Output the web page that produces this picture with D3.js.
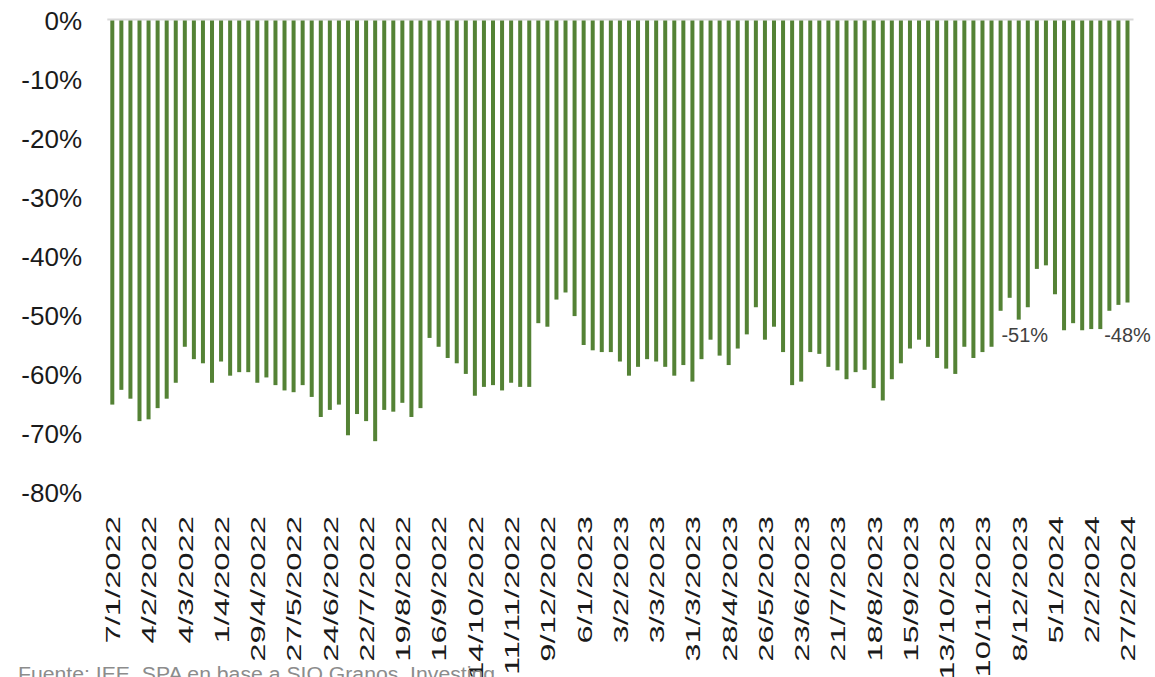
<!DOCTYPE html>
<html>
<head>
<meta charset="utf-8">
<script src="https://cdn.jsdelivr.net/npm/d3@7"></script>
<style>
  body { margin: 0; background: #fff; }
  text { font-family: "Liberation Sans", Arial, sans-serif; }
</style>
</head>
<body>
<script>
// weekly change, % (negative)
const values = [
  -65.1, -62.6, -64.1, -67.9, -67.6, -65.7, -64.1, -61.4, -55.3, -57.4,
  -58.1, -61.4, -57.8, -60.2, -59.6, -59.6, -61.4, -60.5, -61.8, -62.7,
  -63.0, -61.8, -63.8, -67.2, -66.0, -65.1, -70.3, -66.7, -67.9, -71.3,
  -66.0, -66.3, -64.8, -67.2, -65.7, -53.8, -55.3, -57.2, -58.1, -59.9,
  -63.6, -62.1, -61.8, -62.7, -61.4, -62.1, -62.1, -51.3, -51.9, -47.3,
  -46.1, -50.1, -55.0, -55.9, -56.2, -56.2, -57.8, -60.2, -58.7, -57.4,
  -57.8, -58.7, -60.2, -58.4, -61.2, -57.4, -54.1, -56.8, -58.4, -55.6,
  -53.2, -48.6, -54.1, -51.9, -56.2, -61.8, -61.2, -56.2, -56.5, -58.7,
  -59.3, -60.8, -59.6, -59.2, -62.3, -64.4, -60.8, -58.1, -55.6, -54.1,
  -55.3, -57.2, -59.0, -59.9, -55.3, -57.2, -56.2, -55.3, -49.2, -47.0,
  -50.7, -48.6, -42.1, -41.5, -46.4, -52.5, -51.3, -52.5, -52.3, -52.3,
  -49.2, -48.2, -47.8
];

// one label every 4 weeks
const tickLabels = [
  "7/1/2022", "4/2/2022", "4/3/2022", "1/4/2022", "29/4/2022", "27/5/2022",
  "24/6/2022", "22/7/2022", "19/8/2022", "16/9/2022", "14/10/2022",
  "11/11/2022", "9/12/2022", "6/1/2023", "3/2/2023", "3/3/2023", "31/3/2023",
  "28/4/2023", "26/5/2023", "23/6/2023", "21/7/2023", "18/8/2023",
  "15/9/2023", "13/10/2023", "10/11/2023", "8/12/2023", "5/1/2024",
  "2/2/2024", "27/2/2024"
];

const yTicks = [0, -10, -20, -30, -40, -50, -60, -70, -80];

// labelled bars
const callouts = [
  { index: 100, text: "-51%" },
  { index: 112, text: "-48%" }
];

const width = 1155;
const height = 677;
const green = "#548235";

const svg = d3
  .select("body")
  .append("svg")
  .attr("width", width)
  .attr("height", height);

const idx = d3.range(values.length);

const xScale = d3.scalePoint().domain(idx).range([112.3, 1127.5]);

const yScale = d3.scaleLinear().domain([-80, 0]).range([492.5, 20.5]);

// Y axis (labels only)

const yAxis = d3
  .axisLeft(yScale)
  .tickValues(yTicks)
  .tickSize(0)
  .tickPadding(0)
  .tickFormat((d) => d + "%");

svg
  .append("g")
  .attr("id", "y-axis")
  .attr("transform", "translate(82, 0)")
  .call(yAxis)
  .call((g) => g.select(".domain").remove())
  .selectAll("text")
  .style("font-size", "26px")
  .style("font-family", "'Liberation Sans', Arial, sans-serif")
  .attr("fill", "#1a1a1a")
  .attr("dy", "0.36em");

// zero line

svg
  .append("line")
  .attr("x1", xScale(0) - 5)
  .attr("x2", xScale(values.length - 1) + 6)
  .attr("y1", yScale(0) - 1)
  .attr("y2", yScale(0) - 1)
  .attr("stroke", "#d9d9d9")
  .attr("stroke-width", 2);

// Bars

const barW = 4;

svg
  .append("g")
  .attr("id", "bars")
  .selectAll("rect")
  .data(values)
  .enter()
  .append("rect")
  .attr("x", (d, i) => xScale(i) - barW / 2)
  .attr("y", yScale(0))
  .attr("width", barW)
  .attr("height", (d) => yScale(d) - yScale(0))
  .attr("fill", green);

// X axis: rotated dates every 4 bars

const tickIdx = tickLabels.map((d, i) => i * 4);

const xAxis = d3
  .axisBottom(xScale)
  .tickValues(tickIdx)
  .tickSize(0)
  .tickFormat((d) => tickLabels[d / 4]);

svg
  .append("g")
  .attr("id", "x-axis")
  .attr("transform", "translate(0, 516)")
  .call(xAxis)
  .call((g) => g.select(".domain").remove())
  .selectAll("text")
  .style("font-size", "21px")
  .style("font-family", "'Liberation Sans', Arial, sans-serif")
  .attr("fill", "#1a1a1a")
  .attr("text-anchor", "end")
  .attr("x", 0)
  .attr("y", 0)
  .attr("dy", "0.35em")
  .attr("transform", "rotate(-90) scale(1.56, 1)");

// Value callouts

svg
  .append("g")
  .attr("id", "callouts")
  .selectAll("text")
  .data(callouts)
  .enter()
  .append("text")
  .attr("x", (d) => xScale(d.index) + (d.index === 100 ? 6 : 0))
  .attr("y", yScale(-53.3))
  .attr("dy", "0.35em")
  .attr("text-anchor", "middle")
  .style("font-size", "20px")
  .attr("fill", "#404040")
  .text((d) => d.text);

// Source (cut off at the bottom edge)

svg
  .append("text")
  .attr("x", 18)
  .attr("y", 681)
  .attr("textLength", 477)
  .attr("lengthAdjust", "spacingAndGlyphs")
  .style("font-size", "20px")
  .attr("fill", "#8c8c8c")
  .text("Fuente: IEE, SPA en base a SIO Granos, Investing");
</script>
</body>
</html>
